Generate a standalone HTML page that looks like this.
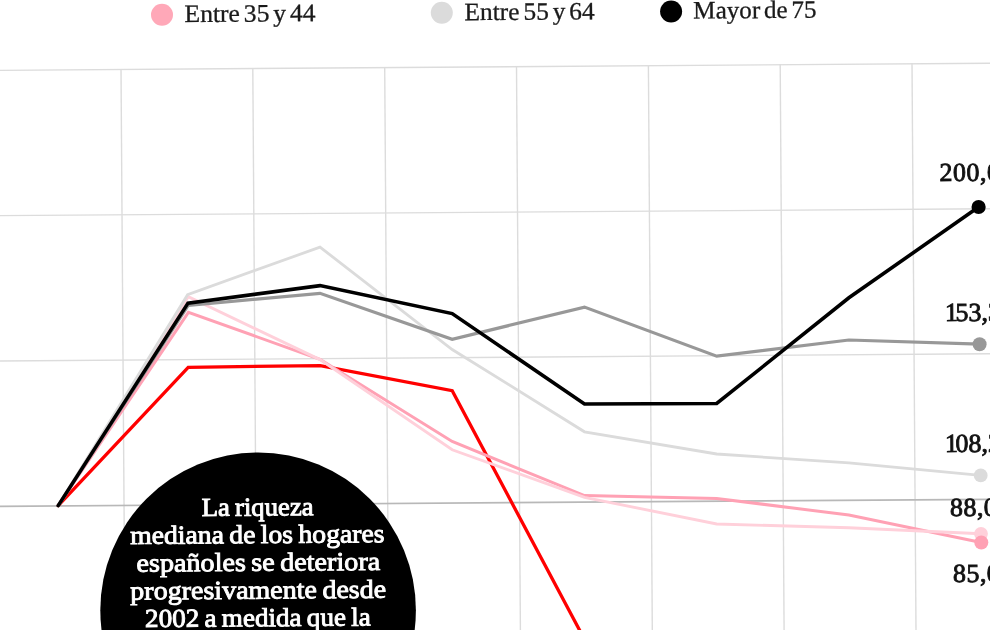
<!DOCTYPE html>
<html lang="es">
<head>
<meta charset="utf-8">
<title>Riqueza mediana de los hogares</title>
<style>
html,body{margin:0;padding:0;background:#fff;}
body{width:990px;height:630px;overflow:hidden;}
svg{display:block;will-change:transform;}
text{font-family:"Liberation Serif",serif;}
.leg{font-size:25px;fill:#1a1a1a;stroke:#1a1a1a;stroke-width:.3px;word-spacing:-2.5px;}
.num{font-size:26px;fill:#111;stroke:#111;stroke-width:.85px;letter-spacing:.45px;}
.bub{font-size:26px;font-weight:normal;fill:#fff;stroke:#fff;stroke-width:.9px;word-spacing:-1.5px;text-anchor:middle;}
.ln{fill:none;stroke-linejoin:miter;stroke-linecap:round;}
</style>
</head>
<body>
<svg width="990" height="630" viewBox="0 0 990 630">
<rect width="990" height="630" fill="#fff"/>
<!-- grid -->
<g stroke="#dcdcdc" stroke-width="1.4" fill="none">
<line x1="0" y1="70.4" x2="990" y2="63.25"/>
<line x1="0" y1="215.65" x2="990" y2="208.8"/>
<line x1="0" y1="361.0" x2="990" y2="353.7"/>
<line x1="121.0" y1="69.0" x2="124.9" y2="630"/>
<line x1="252.8" y1="68.1" x2="256.7" y2="630"/>
<line x1="384.7" y1="67.1" x2="388.6" y2="630"/>
<line x1="516.5" y1="66.2" x2="520.4" y2="630"/>
<line x1="648.4" y1="65.2" x2="652.3" y2="630"/>
<line x1="780.2" y1="64.3" x2="784.1" y2="630"/>
<line x1="912.0" y1="63.3" x2="916.0" y2="630"/>
</g>
<line x1="0" y1="506.3" x2="990" y2="499.3" stroke="#b8b8b8" stroke-width="1.7"/>
<!-- series -->
<polyline class="ln" stroke="#ff0000" stroke-width="3.3" points="58.2,505.6 188.2,367.3 320.2,365.6 452.2,390.7 584.5,639.4"/>
<polyline class="ln" stroke="#ffa1b4" stroke-width="3" points="58.2,505.6 188.4,312.3 320,359.3 452.2,441.5 584.5,495.6 716.7,498.4 848.9,515.1 981.3,542.5"/>
<polyline class="ln" stroke="#ffd0da" stroke-width="2.9" points="58.2,505.6 188.2,296.7 320,359.6 452.2,449.8 584.5,497.3 716.7,524 848.9,527.8 981,533.8"/>
<polyline class="ln" stroke="#dbdbdb" stroke-width="2.8" points="58.2,505.6 187.6,294.7 320,247.1 452.2,349.5 584.5,431.8 716.7,454 848.9,462.9 980.7,475.4"/>
<polyline class="ln" stroke="#989898" stroke-width="3.2" points="58.2,505.6 188.2,305.5 320,293.3 452.2,339.3 584.5,307.1 716.7,356.2 848.9,340 979.6,344.2"/>
<polyline class="ln" stroke="#000" stroke-width="3.6" points="58.2,505.6 188,303.1 320,285.6 452.2,313.6 584.5,404 716.7,403.5 848.9,297.8 978.6,207"/>
<!-- end dots -->
<circle cx="980.7" cy="475.4" r="6.9" fill="#dbdbdb"/>
<circle cx="981" cy="533.8" r="6.9" fill="#ffd0da"/>
<circle cx="981.3" cy="542.5" r="7" fill="#ffa1b4"/>
<circle cx="979.6" cy="344.2" r="7" fill="#989898"/>
<circle cx="978.6" cy="207" r="7.1" fill="#000"/>
<!-- bubble -->
<circle cx="258.1" cy="610.3" r="157.8" fill="#000"/>
<g class="bub" transform="rotate(-0.4 258 560)">
<text x="258" y="515.6" textLength="112" lengthAdjust="spacingAndGlyphs">La riqueza</text>
<text x="257.5" y="543.1" textLength="254.5" lengthAdjust="spacingAndGlyphs">mediana de los hogares</text>
<text x="258.3" y="570.8" textLength="243.8" lengthAdjust="spacingAndGlyphs">españoles se deteriora</text>
<text x="258" y="598.6" textLength="255.8" lengthAdjust="spacingAndGlyphs">progresivamente desde</text>
<text x="257.5" y="626.3" textLength="225.7" lengthAdjust="spacingAndGlyphs">2002 a medida que la</text>
</g>
<!-- legend -->
<circle cx="162" cy="14.8" r="11" fill="#ffa8b8"/>
<text class="leg" x="184.5" y="22.1" textLength="131.1" lengthAdjust="spacingAndGlyphs" transform="rotate(-0.4 184.5 22.1)">Entre 35 y 44</text>
<circle cx="441.8" cy="12.8" r="11" fill="#dbdbdb"/>
<text class="leg" x="464.5" y="20.2" textLength="130.2" lengthAdjust="spacingAndGlyphs" transform="rotate(-0.4 464.5 20.2)">Entre 55 y 64</text>
<circle cx="671.1" cy="11.5" r="11" fill="#000"/>
<text class="leg" x="693.3" y="18.6" textLength="123.3" lengthAdjust="spacingAndGlyphs" transform="rotate(-0.4 693.8 18.6)">Mayor de 75</text>
<!-- value labels -->
<text class="num" x="939.6" y="181.1" transform="rotate(-0.4 939.6 181.1)">200,0</text>
<text class="num" style="letter-spacing:0" x="945.0" y="321.1" transform="rotate(-0.4 946 321.3)">1<tspan dx="-2.6">53,3</tspan></text>
<text class="num" style="letter-spacing:0" x="945.0" y="452.1" transform="rotate(-0.4 946 452.3)">1<tspan dx="-2.6">08,2</tspan></text>
<text class="num" x="950.0" y="516" transform="rotate(-0.4 950 516)">88,0</text>
<text class="num" x="953.0" y="582" transform="rotate(-0.4 953 582)">85,0</text>
</svg>
</body>
</html>
